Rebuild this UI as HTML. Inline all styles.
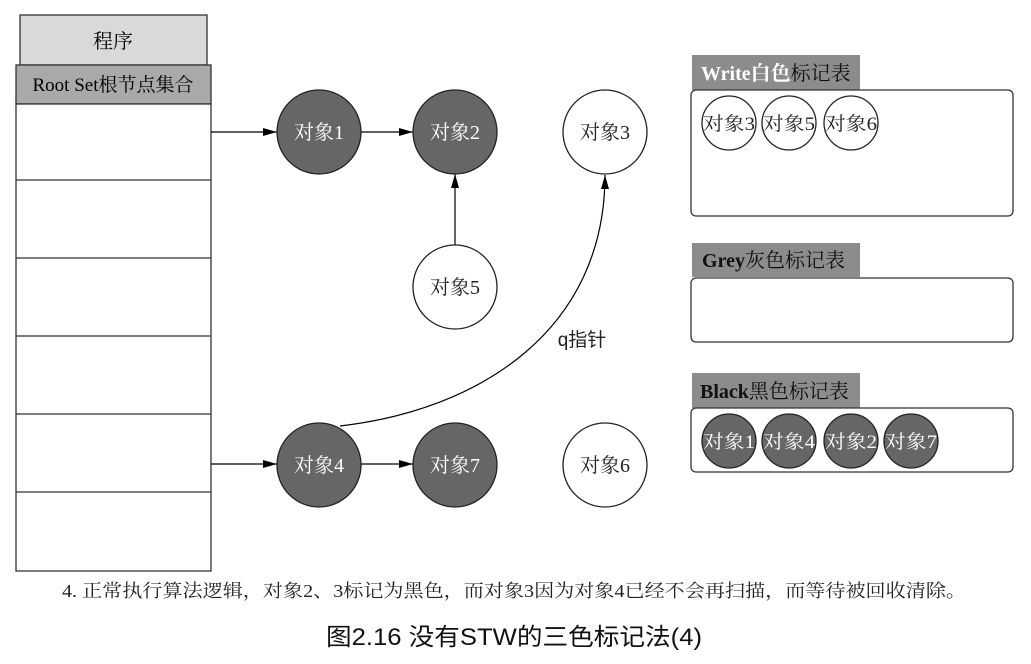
<!DOCTYPE html>
<html><head><meta charset="utf-8"><style>
html,body{margin:0;padding:0;background:#fff;}
svg{display:block;}
text{font-family:"Liberation Serif","Noto Serif CJK SC","Noto Sans CJK SC",serif;}
.s{font-family:"Liberation Sans","Noto Sans CJK SC",sans-serif;}
</style></head><body>
<svg width="1031" height="664" viewBox="0 0 1031 664" xmlns="http://www.w3.org/2000/svg">
<defs><marker id="a" markerWidth="14" markerHeight="8" refX="14" refY="4" orient="auto" markerUnits="userSpaceOnUse"><path d="M0,0 L14,4 L0,8 Z" fill="#000"/></marker></defs>
<rect width="1031" height="664" fill="#fff"/>
<rect x="20" y="15" width="187" height="50" fill="#d9d9d9" stroke="#333" stroke-width="1.3"/>
<text x="113" y="48" font-size="20" text-anchor="middle">程序</text>
<rect x="16" y="65" width="195" height="39" fill="#a9a9a9" stroke="#333" stroke-width="1.3"/>
<text x="113" y="91" font-size="19" text-anchor="middle">Root Set根节点集合</text>
<rect x="16" y="104" width="195" height="467" fill="#fff" stroke="#333" stroke-width="1.3"/>
<g stroke="#333" stroke-width="1.3"><line x1="16" y1="180" x2="211" y2="180"/><line x1="16" y1="258" x2="211" y2="258"/><line x1="16" y1="336" x2="211" y2="336"/><line x1="16" y1="414" x2="211" y2="414"/><line x1="16" y1="492" x2="211" y2="492"/></g>
<g stroke="#000" stroke-width="1.2" fill="none" marker-end="url(#a)">
<line x1="211" y1="132" x2="277" y2="132"/>
<line x1="361" y1="132" x2="413" y2="132"/>
<line x1="455" y1="245" x2="455" y2="174"/>
<line x1="211" y1="464" x2="277" y2="464"/>
<line x1="361" y1="464" x2="413" y2="464"/>
<path d="M340,426 C480,410 605,330 605,175"/>
</g>
<text x="582" y="346" font-size="19" class="s" text-anchor="middle" fill="#222">q指针</text>
<g stroke="#222" stroke-width="1.3">
<circle cx="319" cy="132" r="42" fill="#666"/>
<circle cx="455" cy="132" r="42" fill="#666"/>
<circle cx="605" cy="132" r="42" fill="#fff"/>
<circle cx="455" cy="287" r="42" fill="#fff"/>
<circle cx="319" cy="465" r="42" fill="#666"/>
<circle cx="455" cy="465" r="42" fill="#666"/>
<circle cx="605" cy="465" r="42" fill="#fff"/>
</g>
<g font-size="20" text-anchor="middle">
<text x="319" y="139" fill="#fff">对象1</text>
<text x="455" y="139" fill="#fff">对象2</text>
<text x="605" y="139" fill="#222">对象3</text>
<text x="455" y="294" fill="#222">对象5</text>
<text x="319" y="472" fill="#fff">对象4</text>
<text x="455" y="472" fill="#fff">对象7</text>
<text x="605" y="472" fill="#222">对象6</text>
</g>
<rect x="692" y="55" width="168" height="35" fill="#8c8c8c"/>
<text x="701" y="80" font-size="20"><tspan fill="#fff" font-weight="bold">Write白色</tspan><tspan fill="#111">标记表</tspan></text>
<rect x="691" y="90" width="322" height="126" rx="5" fill="#fff" stroke="#333" stroke-width="1.3"/>
<rect x="692" y="243" width="168" height="34" fill="#8c8c8c"/>
<text x="702" y="267" font-size="20" fill="#111"><tspan font-weight="bold">Grey</tspan>灰色标记表</text>
<rect x="691" y="278" width="322" height="64" rx="5" fill="#fff" stroke="#333" stroke-width="1.3"/>
<rect x="692" y="373" width="168" height="35" fill="#8c8c8c"/>
<text x="700" y="398" font-size="20" fill="#111"><tspan font-weight="bold">Black</tspan>黑色标记表</text>
<rect x="691" y="408" width="322" height="64" rx="5" fill="#fff" stroke="#333" stroke-width="1.3"/>
<g stroke="#222" stroke-width="1.3" fill="#fff">
<circle cx="729" cy="123" r="27"/><circle cx="789" cy="123" r="27"/><circle cx="851" cy="123" r="27"/>
</g>
<g stroke="#222" stroke-width="1.3" fill="#666">
<circle cx="729" cy="441" r="27"/><circle cx="789" cy="441" r="27"/><circle cx="851" cy="441" r="27"/><circle cx="911" cy="441" r="27"/>
</g>
<g font-size="19" text-anchor="middle">
<text x="729" y="130" fill="#222" textLength="52" lengthAdjust="spacingAndGlyphs">对象3</text><text x="789" y="130" fill="#222" textLength="52" lengthAdjust="spacingAndGlyphs">对象5</text><text x="851" y="130" fill="#222" textLength="52" lengthAdjust="spacingAndGlyphs">对象6</text>
<text x="729" y="448" fill="#fff" textLength="52" lengthAdjust="spacingAndGlyphs">对象1</text><text x="789" y="448" fill="#fff" textLength="52" lengthAdjust="spacingAndGlyphs">对象4</text><text x="851" y="448" fill="#fff" textLength="52" lengthAdjust="spacingAndGlyphs">对象2</text><text x="911" y="448" fill="#fff" textLength="52" lengthAdjust="spacingAndGlyphs">对象7</text>
</g>
<text x="62" y="597" font-size="18" fill="#222" textLength="904" lengthAdjust="spacingAndGlyphs">4. 正常执行算法逻辑，对象2、3标记为黑色，而对象3因为对象4已经不会再扫描，而等待被回收清除。</text>
<text x="326" y="645" font-size="24" class="s" fill="#111" textLength="376" lengthAdjust="spacingAndGlyphs">图2.16 没有STW的三色标记法(4)</text>
</svg>
</body></html>
